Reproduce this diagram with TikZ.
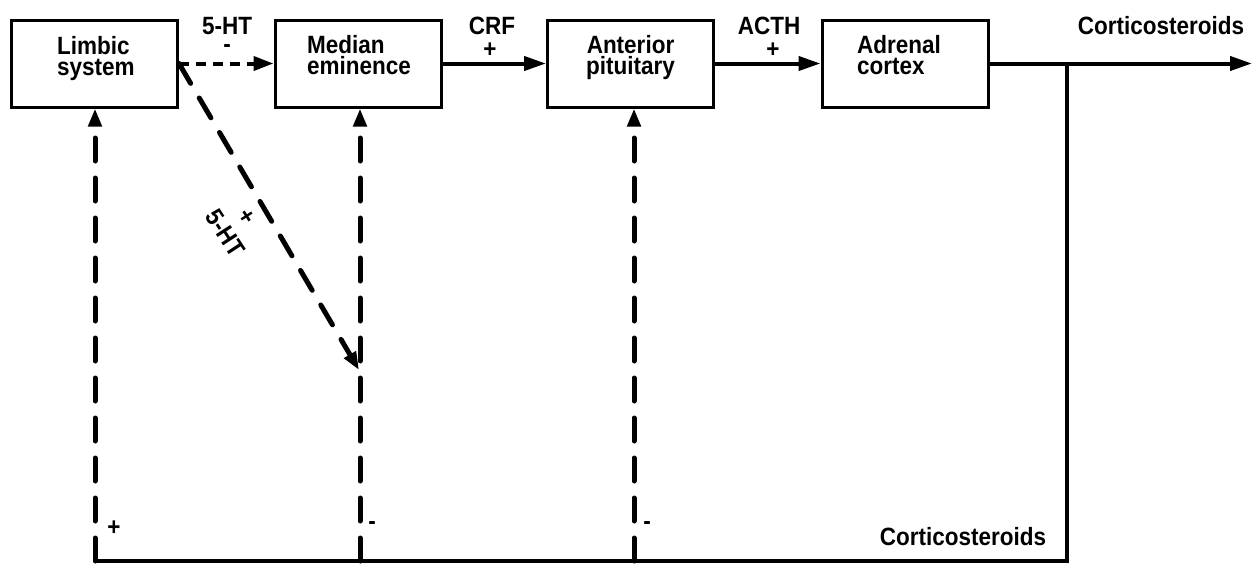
\documentclass[tikz,border=0pt]{standalone}
\usepackage{fontspec}
\setmainfont[FakeStretch=0.9]{Liberation Sans}
\usetikzlibrary{arrows.meta}
\begin{document}
\begin{tikzpicture}[x=1pt,y=-1pt,
  box/.style={draw, line width=3pt, minimum width=166pt, minimum height=87pt, inner sep=0pt},
  lbl/.style={font=\bfseries\fontsize{25}{21}\selectfont, align=left, inner sep=0pt},
  clbl/.style={font=\bfseries\fontsize{25}{21}\selectfont, align=center, inner sep=0pt},
  tag/.style={font=\bfseries\fontsize{25}{22}\selectfont, inner sep=0pt},
  bigtip/.style={-{Triangle[length=22pt,width=14pt]}},
  solidarrow/.style={line width=4pt, bigtip},
  shortdash/.style={line width=4pt, dash pattern=on 10pt off 7pt, -{Triangle[length=20pt,width=14pt]}},
  fbdash/.style={line width=5pt, line cap=round, dash pattern=on 23pt off 17pt, -{Triangle[length=18pt,width=13pt]}},
  fbline/.style={line width=3.5pt}
]
\useasboundingbox (0,0) rectangle (1252,563);

% boxes
\node[box] (lim) at (94.5,63.5) {};
\node[box] (med) at (358,63.5) {};
\node[box] (ant) at (630.5,63.5) {};
\node[box] (adr) at (905,63.5) {};

% box texts
\node[lbl, anchor=west] (limt) at (57,58.5) {Limbic\\system};
\node[lbl, anchor=west] (medt) at (307,55) {Median\\eminence};
\node[clbl] (antt) at (630.5,57.5) {Anterior\\pituitary};
\node[lbl, anchor=west] (adrt) at (857,55) {Adrenal\\cortex};

% forward chain
\draw[shortdash] (lim.east) -- (med.west);
\draw[solidarrow] (med.east) -- (ant.west);
\draw[solidarrow] (ant.east) -- (adr.west);
\coordinate (out) at (1252,63.5);
\coordinate (j) at (1067,63.5);
\draw[solidarrow] (adr.east) -- (out);

% forward labels
\node[tag] (ht1) at (227,26) {5-HT};
\node[tag] (ht1s) at (227,49) {-};
\node[tag] (crf) at (492,26) {CRF};
\node[tag] (crfs) at (490,50) {+};
\node[tag] (acth) at (769,26) {ACTH};
\node[tag] (acths) at (773,50) {+};
\node[tag] (cort1) at (1161,26) {Corticosteroids};

% feedback loop
\coordinate (br) at (1067,561);
\coordinate (b1) at (95,561);
\coordinate (b2) at (360,561);
\coordinate (b3) at (634,561);
\draw[fbline] (j) -- (br) -- (b1);
\draw[fbdash] (b1) -- (b1 |- lim.south);
\draw[fbdash] (b2) -- (b2 |- med.south);
\draw[fbdash] (b3) -- (b3 |- ant.south);
\node[tag] (cort2) at (963,537) {Corticosteroids};
\node[tag] (s1) at (114,528) {+};
\node[tag] (s2) at (372,526) {-};
\node[tag] (s3) at (647,526) {-};

% diagonal
\coordinate (dtip) at (359,370);
\draw[fbdash] (lim.east) -- (dtip);
\node[tag, rotate=-57] (ht2p) at (246,217) {+};
\node[tag, rotate=-57] (ht2) at (225,233) {5-HT};
\end{tikzpicture}
\end{document}
